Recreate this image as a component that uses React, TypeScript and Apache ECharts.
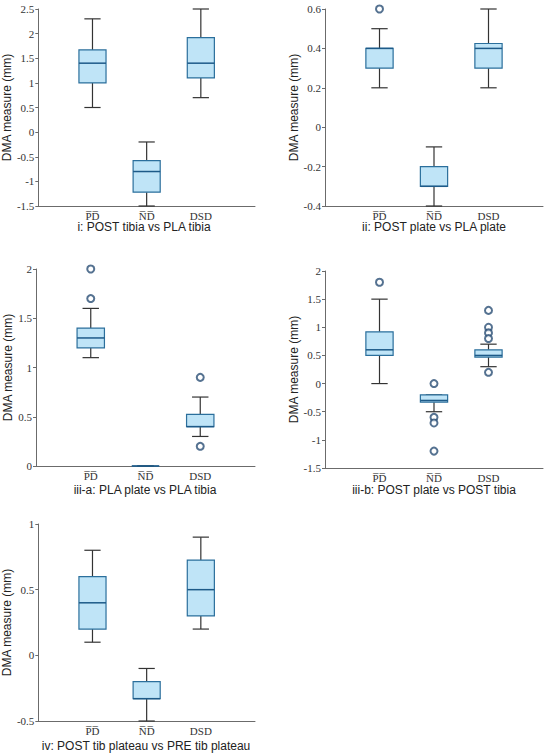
import React, { useEffect, useRef } from "react";
import * as echarts from "echarts";

const categoryLabels = ["P\u0305D\u0305", "N\u0305D\u0305", "DSD"];

// box stats per category: [lowWhisker, q1, median, q3, highWhisker]
const boxesI = [
  [0.5, 1.0, 1.4, 1.67, 2.3],
  [-1.5, -1.22, -0.8, -0.58, -0.2],
  [0.7, 1.1, 1.4, 1.92, 2.5],
];
const outliersI: number[][] = [];

const boxesII = [
  [0.2, 0.3, 0.4, 0.4, 0.5],
  [-0.4, -0.3, -0.3, -0.2, -0.1],
  [0.2, 0.3, 0.4, 0.425, 0.6],
];
const outliersII = [[1, 0.6]];

const boxesIIIa = [
  [1.1, 1.2, 1.3, 1.4, 1.6],
  [0, 0, 0, 0, 0],
  [0.3, 0.4, 0.4, 0.525, 0.7],
];
const outliersIIIa = [
  [1, 2.0],
  [1, 1.7],
  [3, 0.9],
  [3, 0.2],
];

const boxesIIIb = [
  [0, 0.5, 0.6, 0.92, 1.5],
  [-0.5, -0.33, -0.3, -0.2, -0.2],
  [0.3, 0.47, 0.5, 0.6, 0.7],
];
const outliersIIIb = [
  [1, 1.8],
  [2, 0],
  [2, -0.6],
  [2, -0.7],
  [2, -1.2],
  [3, 1.3],
  [3, 1.0],
  [3, 0.9],
  [3, 0.8],
  [3, 0.2],
];

const boxesIV = [
  [0.1, 0.2, 0.4, 0.6, 0.8],
  [-0.5, -0.33, -0.33, -0.2, -0.1],
  [0.2, 0.3, 0.5, 0.725, 0.9],
];
const outliersIV: number[][] = [];

const captions = [
  "i: POST tibia vs PLA tibia",
  "ii: POST plate vs PLA plate",
  "iii-a: PLA plate vs PLA tibia",
  "iii-b: POST plate vs POST tibia",
  "iv: POST tib plateau vs PRE tib plateau",
];

const yRanges = [
  [-1.5, 2.5, 0.5],
  [-0.4, 0.6, 0.2],
  [0, 2, 0.5],
  [-1.5, 2, 0.5],
  [-0.5, 1, 0.5],
];

const panels = [
  { boxes: boxesI, outliers: outliersI },
  { boxes: boxesII, outliers: outliersII },
  { boxes: boxesIIIa, outliers: outliersIIIa },
  { boxes: boxesIIIb, outliers: outliersIIIb },
  { boxes: boxesIV, outliers: outliersIV },
];

const grids = [
  { left: 33, top: 9, width: 222, height: 197, nameGap: 20, capX: 144, capY: 227 },
  { left: 325, top: 9, width: 218, height: 197, nameGap: 24, capX: 434, capY: 227 },
  { left: 36, top: 269, width: 219, height: 197, nameGap: 18, capX: 145, capY: 490 },
  { left: 325, top: 271, width: 218, height: 197, nameGap: 22, capX: 434, capY: 490 },
  { left: 37, top: 524, width: 218, height: 197, nameGap: 22, capX: 146, capY: 746 },
];

const BOX_FILL = "#bfe4f7";
const BOX_STROKE = "#2b6f9c";
const MEDIAN = "#1d5a88";
const WHISKER = "#333333";
const SERIF = "'Liberation Serif', 'DejaVu Serif', serif";
const SANS = "'Liberation Sans', Arial, sans-serif";

function fmt(v: number) {
  return String(Number(v.toFixed(2)));
}

export default function App() {
  const ref = useRef<HTMLDivElement>(null);
  useEffect(() => {
    document.body.style.margin = "0";
    const chart = echarts.init(ref.current!, null, { renderer: "svg" });
    const grid: any[] = [];
    const xAxis: any[] = [];
    const yAxis: any[] = [];
    const series: any[] = [];
    const graphic: any[] = [];
    panels.forEach((p, i) => {
      const g = grids[i];
      grid.push({ left: g.left, top: g.top, width: g.width, height: g.height });
      xAxis.push({
        type: "value",
        gridIndex: i,
        min: 0,
        max: 4,
        interval: 1,
        splitLine: { show: false },
        axisTick: { show: false },
        axisLine: { onZero: false, lineStyle: { color: "#6b6b6b", width: 1 } },
        axisLabel: {
          margin: 4,
          fontFamily: SERIF,
          fontSize: 11,
          color: "#333",
          formatter: (v: number) => categoryLabels[v - 1] ?? "",
        },
      });
      const [mn, mx, step] = yRanges[i];
      yAxis.push({
        type: "value",
        gridIndex: i,
        min: mn,
        max: mx,
        interval: step,
        name: "DMA measure (mm)",
        nameLocation: "middle",
        nameGap: g.nameGap,
        nameTextStyle: { fontFamily: SANS, fontSize: 12, color: "#222" },
        splitLine: { show: false },
        axisLine: { show: true, onZero: false, lineStyle: { color: "#6b6b6b", width: 1 } },
        axisTick: { show: true, length: 3, lineStyle: { color: "#6b6b6b" } },
        axisLabel: {
          margin: 4,
          fontFamily: SERIF,
          fontSize: 11,
          color: "#333",
          formatter: (v: number) => fmt(v),
        },
      });
      series.push({
        type: "custom",
        xAxisIndex: i,
        yAxisIndex: i,
        data: p.boxes.map((b, k) => [k + 1, ...b]),
        encode: { x: 0, y: [1, 2, 3, 4, 5] },
        renderItem: (params: any, api: any) => {
          const x = api.value(0);
          const lo = api.coord([x, api.value(1)]);
          const q1 = api.coord([x, api.value(2)]);
          const med = api.coord([x, api.value(3)]);
          const q3 = api.coord([x, api.value(4)]);
          const hi = api.coord([x, api.value(5)]);
          const unit = api.size([1, 0])[0];
          const bw = unit * 0.5;
          const cw = unit * 0.3;
          const cx = lo[0];
          return {
            type: "group",
            children: [
              { type: "line", shape: { x1: cx, y1: hi[1], x2: cx, y2: q3[1] }, style: { stroke: WHISKER, lineWidth: 1.2 } },
              { type: "line", shape: { x1: cx, y1: q1[1], x2: cx, y2: lo[1] }, style: { stroke: WHISKER, lineWidth: 1.2 } },
              { type: "line", shape: { x1: cx - cw / 2, y1: hi[1], x2: cx + cw / 2, y2: hi[1] }, style: { stroke: WHISKER, lineWidth: 1.2 } },
              { type: "line", shape: { x1: cx - cw / 2, y1: lo[1], x2: cx + cw / 2, y2: lo[1] }, style: { stroke: WHISKER, lineWidth: 1.2 } },
              {
                type: "rect",
                shape: { x: cx - bw / 2, y: q3[1], width: bw, height: q1[1] - q3[1] },
                style: { fill: BOX_FILL, stroke: BOX_STROKE, lineWidth: 1.2 },
              },
              { type: "line", shape: { x1: cx - bw / 2, y1: med[1], x2: cx + bw / 2, y2: med[1] }, style: { stroke: MEDIAN, lineWidth: 1.5 } },
            ],
          };
        },
      });
      if (p.outliers.length) {
        series.push({
          type: "scatter",
          xAxisIndex: i,
          yAxisIndex: i,
          data: p.outliers,
          symbol: "emptyCircle",
          symbolSize: 7,
          itemStyle: { color: "#2a4f75", borderWidth: 1 },
        });
      }
      graphic.push({
        type: "text",
        x: g.capX,
        y: g.capY,
        style: {
          text: captions[i],
          textAlign: "center",
          textVerticalAlign: "middle",
          fontFamily: SANS,
          fontSize: 12,
          fill: "#222",
        },
      });
    });
    chart.setOption({ animation: false, backgroundColor: "#fff", grid, xAxis, yAxis, series, graphic });
    return () => chart.dispose();
  }, []);
  return <div ref={ref} style={{ width: 550, height: 754 }} />;
}
